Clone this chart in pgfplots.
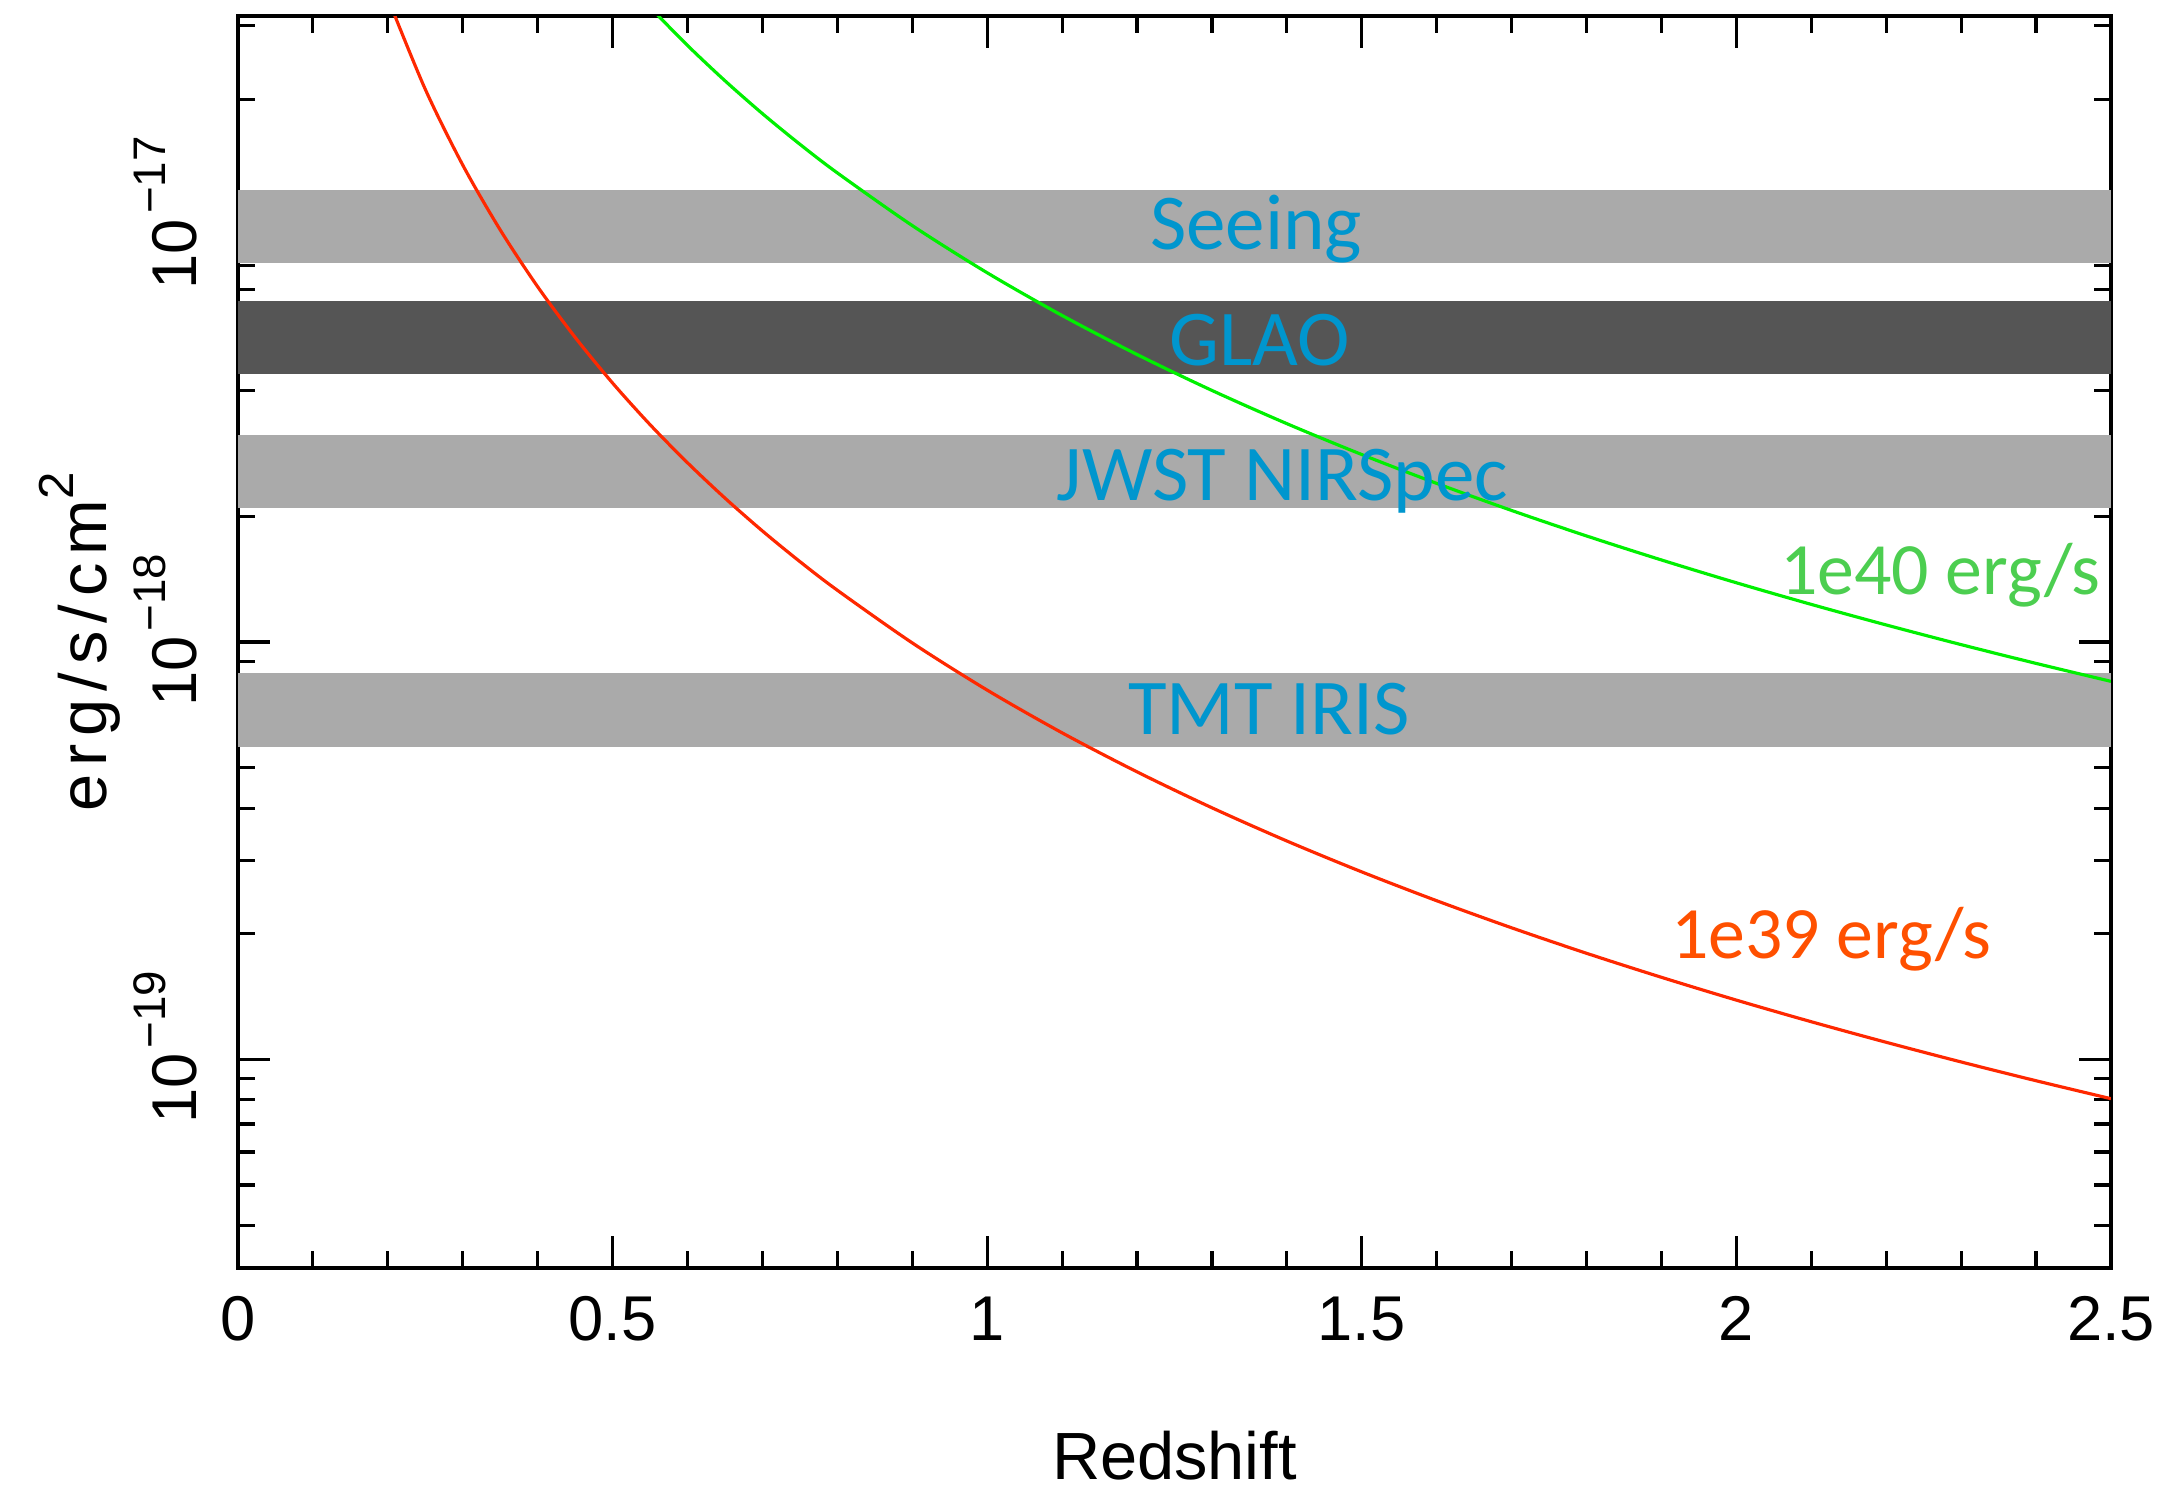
\documentclass[border=0pt]{standalone}
\usepackage{fontspec}
\setmainfont{Liberation Sans}
\newfontfamily\gill{Carlito}
\usepackage{pgfplots}
\usepackage{pgfplotstable}
\pgfplotsset{compat=1.18}
\definecolor{bandlight}{RGB}{170,170,170}
\definecolor{banddark}{RGB}{85,85,85}
\definecolor{bandtext}{RGB}{0,150,206}
\definecolor{greenline}{RGB}{0,240,0}
\definecolor{greentext}{RGB}{76,206,80}
\definecolor{redline}{RGB}{255,40,0}
\definecolor{redtext}{RGB}{255,80,0}

\newcommand{\tenexp}[1]{10\hspace{0.08em}\raisebox{0.5em}{\fontsize{13}{13}\selectfont #1}}

\pgfplotstableread{
z F
0.20 3.489e-17
0.25 2.111e-17
0.30 1.390e-17
0.35 9.719e-18
0.40 7.103e-18
0.45 5.372e-18
0.50 4.175e-18
0.55 3.319e-18
0.60 2.689e-18
0.65 2.213e-18
0.70 1.846e-18
0.75 1.559e-18
0.80 1.331e-18
0.90 9.954e-19
1.00 7.673e-19
1.10 6.061e-19
1.20 4.887e-19
1.30 4.008e-19
1.40 3.337e-19
1.50 2.814e-19
1.60 2.400e-19
1.70 2.067e-19
1.80 1.796e-19
1.90 1.573e-19
2.00 1.387e-19
2.10 1.231e-19
2.20 1.099e-19
2.30 9.860e-20
2.40 8.890e-20
2.50 8.051e-20
}\redtab

\pgfplotstableread{
z F
0.55 3.319e-17
0.60 2.689e-17
0.65 2.213e-17
0.70 1.846e-17
0.75 1.559e-17
0.80 1.331e-17
0.90 9.954e-18
1.00 7.673e-18
1.10 6.061e-18
1.20 4.887e-18
1.30 4.008e-18
1.40 3.337e-18
1.50 2.814e-18
1.60 2.400e-18
1.70 2.067e-18
1.80 1.796e-18
1.90 1.573e-18
2.00 1.387e-18
2.10 1.231e-18
2.20 1.099e-18
2.30 9.860e-19
2.40 8.890e-19
2.50 8.051e-19
}\greentab

\begin{document}
\begin{tikzpicture}
\useasboundingbox (-2.38cm,-2.22cm) rectangle (19.43cm,12.68cm);
\begin{axis}[
  at={(0,0)}, anchor=south west,
  scale only axis, width=18.73cm, height=12.52cm,
  xmin=0, xmax=2.5,
  ymode=log, ymin=3.1623e-20, ymax=3.1623e-17,
  xtick={0,0.5,1,1.5,2,2.5},
  xticklabels={0,0.5,1,1.5,2,2.5},
  minor x tick num=4,
  ytick={1e-19,1e-18,1e-17},
  yticklabels={\tenexp{−19},\tenexp{−18},\tenexp{−17}},
  minor ytick={4e-20,5e-20,6e-20,7e-20,8e-20,9e-20,
               2e-19,3e-19,4e-19,5e-19,6e-19,7e-19,8e-19,9e-19,
               2e-18,3e-18,4e-18,5e-18,6e-18,7e-18,8e-18,9e-18,
               2e-17,3e-17},
  major tick length=3.2mm, minor tick length=1.7mm,
  tick style={black, line width=0.9pt},
  axis line style={line width=1pt},
  every tick label/.append style={font=\fontsize{18}{20}\selectfont},
  xticklabel style={yshift=-1.6mm},
  yticklabel style={xshift=-2.8mm, yshift=1.2mm, rotate=90, anchor=south},
  xlabel={Redshift},
  ylabel={erg/s/cm\raisebox{0.5em}{\fontsize{14}{14}\selectfont 2}},
  label style={font=\fontsize{19}{22}\selectfont},
  xlabel style={at={(axis description cs:0.5,-0.1495)}, anchor=center},
  ylabel style={at={(axis description cs:-0.0844,0.5)}, anchor=center,
                font=\fontsize{19}{22}\selectfont\addfontfeatures{LetterSpace=12}},
]
\addplot[draw=none, fill=bandlight] coordinates {(0,8.1e-18) (2.5,8.1e-18) (2.5,1.21e-17) (0,1.21e-17)} -- cycle;
\addplot[draw=none, fill=banddark] coordinates {(0,4.40e-18) (2.5,4.40e-18) (2.5,6.58e-18) (0,6.58e-18)} -- cycle;
\addplot[draw=none, fill=bandlight] coordinates {(0,2.09e-18) (2.5,2.09e-18) (2.5,3.13e-18) (0,3.13e-18)} -- cycle;
\addplot[draw=none, fill=bandlight] coordinates {(0,5.62e-19) (2.5,5.62e-19) (2.5,8.43e-19) (0,8.43e-19)} -- cycle;

\addplot[redline, line width=0.9pt, smooth, no markers] table[x=z, y=F] {\redtab};
\addplot[greenline, line width=0.9pt, smooth, no markers] table[x=z, y=F] {\greentab};

\node[anchor=base, text=bandtext, font=\gill\fontsize{22.5}{24}\selectfont] at (axis cs:1.359,8.71e-18) {Seeing};
\node[anchor=base, text=bandtext, font=\gill\fontsize{22.5}{24}\selectfont] at (axis cs:1.364,4.59e-18) {GLAO};
\node[anchor=base, text=bandtext, font=\gill\fontsize{22.5}{24}\selectfont] at (axis cs:1.394,2.18e-18) {JWST NIRSpec};
\node[anchor=base, text=bandtext, font=\gill\fontsize{22.5}{24}\selectfont] at (axis cs:1.376,6.02e-19) {TMT IRIS};
\node[anchor=base east, inner sep=0pt, text=greentext, font=\gill\fontsize{21}{24}\selectfont] at (axis cs:2.487,1.303e-18) {1e40 erg/s};
\node[anchor=base west, inner sep=0pt, text=redtext, font=\gill\fontsize{21}{24}\selectfont] at (axis cs:1.912,1.746e-19) {1e39 erg/s};
\end{axis}
\end{tikzpicture}
\end{document}
